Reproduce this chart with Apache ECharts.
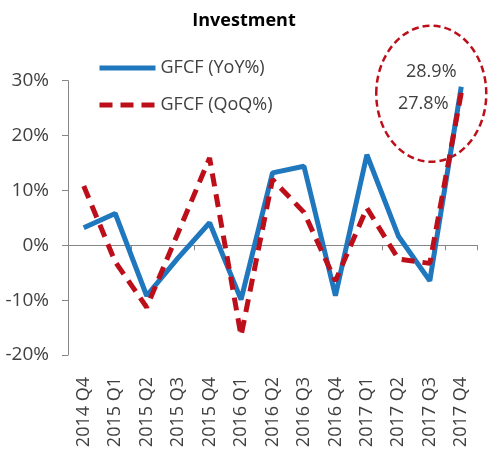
<!DOCTYPE html>
<html><head><meta charset="utf-8">
<script src="https://cdn.jsdelivr.net/npm/echarts@6/dist/echarts.min.js"></script>
<style>html,body{margin:0;padding:0;background:#fff}#c{width:488px;height:463px}</style>
</head><body><div id="c"></div>
<script>
const categories = ['2014 Q4','2015 Q1','2015 Q2','2015 Q3','2015 Q4','2016 Q1','2016 Q2','2016 Q3','2016 Q4','2017 Q1','2017 Q2','2017 Q3','2017 Q4'];
const yoyValues = [3.2, 5.8, -9.2, -2.3, 4.1, -9.9, 13.2, 14.4, -9.2, 16.5, 1.7, -6.5, 28.9];
const qoqValues = [10.8, -3.0, -11.3, 2.3, 15.9, -16.5, 12.0, 6.0, -6.5, 6.8, -2.5, -3.3, 27.8];
const yTicks = {min: -20, max: 30, interval: 10};
const seriesNames = ['GFCF (YoY%)', 'GFCF (QoQ%)'];

const FONT = 'Open Sans';
const chart = echarts.init(document.getElementById('c'));
const option = {
  animation: false,
  title: {text: 'Investment', left: 'center', top: 7,
    textStyle: {fontFamily: FONT, fontSize: 18, fontWeight: 'bold', color: '#000'}},
  legend: {
    orient: 'vertical', left: 92, top: 54, itemWidth: 56, itemHeight: 14, itemGap: 19,
    textStyle: {fontFamily: FONT, fontSize: 18, color: '#404040'},
    itemStyle: {opacity: 0},
    lineStyle: {width: 5},
    data: seriesNames
  },
  grid: {left: 68, right: 11, top: 80.7, bottom: 108, containLabel: false},
  xAxis: [
    {type: 'category', data: categories, boundaryGap: true,
     axisLine: {onZero: true, lineStyle: {color: '#868686', width: 1}},
     axisTick: {show: true, length: 5, lineStyle: {color: '#868686'}},
     axisLabel: {show: false}},
    {type: 'category', data: categories, boundaryGap: true, position: 'bottom',
     axisLine: {show: false, onZero: false}, axisTick: {show: false},
     axisLabel: {rotate: 90, margin: 22, fontFamily: FONT, fontSize: 18, color: '#404040', interval: 0}}
  ],
  yAxis: {type: 'value', min: yTicks.min, max: yTicks.max, interval: yTicks.interval,
    axisLine: {show: true, lineStyle: {color: '#868686'}},
    axisTick: {show: true, length: 6, lineStyle: {color: '#868686'}},
    splitLine: {show: false},
    axisLabel: {formatter: '{value}%', margin: 19, fontFamily: FONT, fontSize: 19, color: '#404040'}},
  series: [
    {name: seriesNames[0], type: 'line', data: yoyValues, xAxisIndex: 0, symbol: 'none',
     lineStyle: {color: '#1F77BE', width: 5}, itemStyle: {color: '#1F77BE'}, z: 2},
    {name: seriesNames[1], type: 'line', data: qoqValues, xAxisIndex: 0, symbol: 'none',
     lineStyle: {color: '#BC0F1A', width: 5, type: [13, 8]}, itemStyle: {color: '#BC0F1A'}, z: 3}
  ]
};
chart.setOption(option);

const last = categories.length - 1;
const pY = chart.convertToPixel({xAxisIndex: 0, yAxisIndex: 0}, [last, yoyValues[last]]);
const pQ = chart.convertToPixel({xAxisIndex: 0, yAxisIndex: 0}, [last, qoqValues[last]]);
chart.setOption({
  graphic: [
    {type: 'text', x: pY[0] - 30, y: pY[1] - 15,
     style: {text: yoyValues[last].toFixed(1) + '%', font: '18px ' + FONT, fill: '#404040', align: 'center', verticalAlign: 'middle'}},
    {type: 'text', x: pQ[0] - 38, y: pQ[1] + 11,
     style: {text: qoqValues[last].toFixed(1) + '%', font: '18px ' + FONT, fill: '#404040', align: 'center', verticalAlign: 'middle'}},
    {type: 'ellipse', shape: {cx: pY[0] - 30, cy: pY[1] + 7, rx: 55, ry: 68},
     style: {fill: 'none', stroke: '#BC0F1A', lineWidth: 2.5, lineDash: [7, 4]}}
  ]
});
</script></body></html>
